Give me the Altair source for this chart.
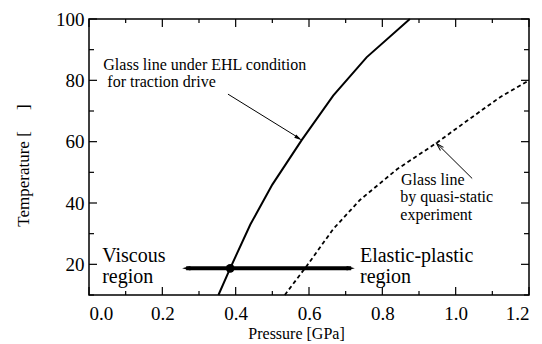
import altair as alt
import pandas as pd

# ---- data ----
ehl_pressure = [0.353, 0.385, 0.44, 0.50, 0.58, 0.666, 0.757, 0.875]
ehl_temp = [10, 18.7, 33, 46, 60.5, 75, 87.5, 100]

qs_pressure = [0.534, 0.594, 0.666, 0.739, 0.84, 0.948, 1.039, 1.121, 1.2]
qs_temp = [10, 19.5, 31.5, 41, 51, 59.6, 67.5, 74.5, 80]

x_major = [0.0, 0.2, 0.4, 0.6, 0.8, 1.0, 1.2]
x_minor = [0.1, 0.3, 0.5, 0.7, 0.9, 1.1]
y_major = [20, 40, 60, 80, 100]
y_minor = [10, 30, 50, 70, 90]

# transition point and the region arrow
point_p = [0.385]
point_t = [18.7]
region_arrow_p = [0.265, 0.715]
region_arrow_t = [18.7, 18.7]
region_heads_p = [0.254, 0.725]
region_heads_t = [18.7, 18.7]
region_heads_angle = [270, 90]

# annotation arrows
ehl_arrow_p = [0.379, 0.575]
ehl_arrow_t = [75.5, 61.0]
ehl_tip_p = [0.58]
ehl_tip_t = [60.5]
qs_arrow_p = [1.045, 0.952]
qs_arrow_t = [48.0, 59.0]
qs_tip_p = [0.948]
qs_tip_t = [59.4]

# texts
ehl_text = ["Glass line under EHL condition", "for traction drive"]
ehl_text_p = [0.039, 0.050]
ehl_text_t = [83.5, 77.8]

qs_text = ["Glass line", "by quasi-static", "experiment"]
qs_text_p = [0.851, 0.849, 0.849]
qs_text_t = [45.75, 40.2, 34.6]

region_text = ["Viscous", "region", "Elastic-plastic", "region"]
region_p = [0.036, 0.036, 0.739, 0.739]
region_t = [20.9, 14.05, 20.9, 14.05]

FONT = "Liberation Serif"
W, H = 440, 276

xs = alt.Scale(domain=[0, 1.2], nice=False, zero=False)
ys = alt.Scale(domain=[10, 100], nice=False, zero=False)

x_axis = alt.Axis(values=x_major, format=".1f", ticks=False, domain=False, grid=False,
                  labelFont=FONT, labelFontSize=19, labelPadding=9, labelColor="black",
                  title="Pressure [GPa]", titleFont=FONT, titleFontSize=16,
                  titleFontWeight="normal", titleColor="black", titleLimit=300,
                  titleX=207, titleY=38, titleBaseline="middle")
y_axis = alt.Axis(values=y_major, format="d", ticks=False, domain=False, grid=False,
                  labelFont=FONT, labelFontSize=19, labelPadding=5, labelColor="black",
                  title="Temperature [\u00a0\u00a0\u00a0\u00a0\u00a0]", titleFont=FONT,
                  titleFontSize=17, titleFontWeight="normal", titleColor="black",
                  titleLimit=300,
                  titleX=-66, titleY=146, titleBaseline="middle", titleAlign="center",
                  titleAngle=270)


def xq(f="p"):
    return alt.X(f"{f}:Q", scale=xs, axis=x_axis)


def yq(f="t"):
    return alt.Y(f"{f}:Q", scale=ys, axis=y_axis)


ehl_df = pd.DataFrame({"p": ehl_pressure, "t": ehl_temp})
qs_df = pd.DataFrame({"p": qs_pressure, "t": qs_temp})

ehl_line = alt.Chart(ehl_df).mark_line(color="black", strokeWidth=2).encode(x=xq(), y=yq())
qs_line = alt.Chart(qs_df).mark_line(color="black", strokeWidth=1.8, strokeDash=[4, 3]).encode(
    x=xq(), y=yq())

# ticks (inward, all four sides)
ticks = []
for vals, ln in ((x_major, 8), (x_minor, 4)):
    d = pd.DataFrame({"p": vals})
    ticks.append(alt.Chart(d).mark_rule(color="black", strokeWidth=1.2).encode(
        x=xq(), y=alt.value(H), y2=alt.value(H - ln)))
    ticks.append(alt.Chart(d).mark_rule(color="black", strokeWidth=1.2).encode(
        x=xq(), y=alt.value(0), y2=alt.value(ln)))
for vals, ln in ((y_major, 8), (y_minor, 5)):
    d = pd.DataFrame({"t": vals})
    ticks.append(alt.Chart(d).mark_rule(color="black", strokeWidth=1.2).encode(
        y=yq(), x=alt.value(0), x2=alt.value(ln)))
    ticks.append(alt.Chart(d).mark_rule(color="black", strokeWidth=1.2).encode(
        y=yq(), x=alt.value(W), x2=alt.value(W - ln)))

# region arrow
ra_df = pd.DataFrame({"p": region_arrow_p, "t": region_arrow_t})
region_line = alt.Chart(ra_df).mark_line(color="black", strokeWidth=4).encode(x=xq(), y=yq())
rh_df = pd.DataFrame({"p": region_heads_p, "t": region_heads_t, "a": region_heads_angle})
head_shape = "M0,0 L-0.42,1.5 L0.42,1.5 Z"
region_heads = alt.Chart(rh_df).mark_point(shape=head_shape, filled=True, color="black",
                                           size=120, opacity=1).encode(
    x=xq(), y=yq(), angle=alt.Angle("a:Q", scale=None))
dot = alt.Chart(pd.DataFrame({"p": point_p, "t": point_t})).mark_point(
    shape="circle", filled=True, color="black", size=75, opacity=1).encode(x=xq(), y=yq())

# annotation arrows
ehl_arrow = alt.Chart(pd.DataFrame({"p": ehl_arrow_p, "t": ehl_arrow_t})).mark_line(
    color="black", strokeWidth=1).encode(x=xq(), y=yq())
ehl_tip = alt.Chart(pd.DataFrame({"p": ehl_tip_p, "t": ehl_tip_t})).mark_point(
    shape="M0,0 L-0.4,1.6 L0.4,1.6 Z", filled=True, color="black", size=90, opacity=1,
    angle=122).encode(x=xq(), y=yq())
qs_arrow = alt.Chart(pd.DataFrame({"p": qs_arrow_p, "t": qs_arrow_t})).mark_line(
    color="black", strokeWidth=1).encode(x=xq(), y=yq())
qs_tip = alt.Chart(pd.DataFrame({"p": qs_tip_p, "t": qs_tip_t})).mark_point(
    shape="M-0.45,1.6 L0,0 L0.45,1.6", filled=False, color="black", size=90, opacity=1,
    strokeWidth=1, angle=315).encode(x=xq(), y=yq())

ehl_ann = alt.Chart(pd.DataFrame({"p": ehl_text_p, "t": ehl_text_t, "s": ehl_text})).mark_text(
    font=FONT, fontSize=16, align="left", baseline="alphabetic", color="black").encode(
    x=xq(), y=yq(), text="s:N")
qs_ann = alt.Chart(pd.DataFrame({"p": qs_text_p, "t": qs_text_t, "s": qs_text})).mark_text(
    font=FONT, fontSize=16, align="left", baseline="alphabetic", color="black").encode(
    x=xq(), y=yq(), text="s:N")
regions = alt.Chart(pd.DataFrame({"p": region_p, "t": region_t, "s": region_text})).mark_text(
    font=FONT, fontSize=20, align="left", baseline="alphabetic", color="black").encode(
    x=xq(), y=yq(), text="s:N")

chart = alt.layer(
    ehl_line, qs_line, *ticks, region_line, region_heads, dot,
    ehl_arrow, ehl_tip, qs_arrow, qs_tip, ehl_ann, qs_ann, regions
).properties(
    width=W, height=H,
    padding={"left": 81, "top": 11, "right": 5, "bottom": 48},
    autosize=alt.AutoSizeParams(type="none"),
).configure_view(
    stroke="black", strokeWidth=1.5
)

chart.save("out.html", embed_options={"renderer": "svg", "actions": False})
